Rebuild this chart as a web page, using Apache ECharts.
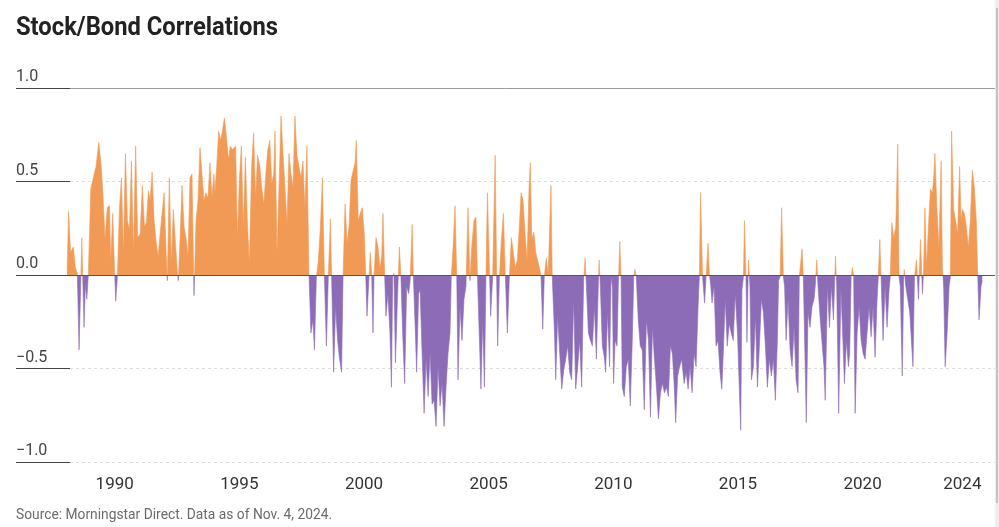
<!DOCTYPE html>
<html><head><meta charset="utf-8">
<script src="https://cdn.jsdelivr.net/npm/echarts@6/dist/echarts.min.js"></script>
<style>html,body{margin:0;padding:0;background:#fff}#c{width:999px;height:527px}</style>
</head><body><div id="c"></div>
<script>
const titleText = 'Stock/Bond Correlations';
const sourceText = 'Source: Morningstar Direct. Data as of Nov. 4, 2024.';
const yearTicks = [1990, 1995, 2000, 2005, 2010, 2015, 2020, 2024];
const yTicks = [-1, -0.5, 0, 0.5, 1];

// decimal year of each observation
const dates = [
1988.09,1988.15,1988.23,1988.34,1988.42,1988.50,1988.57,1988.64,1988.68,1988.72,1988.77,1988.82,1988.88,1988.94,
1989.04,1989.14,1989.25,1989.36,1989.46,1989.54,1989.61,1989.70,1989.79,1989.84,1989.92,1989.99,
1990.04,1990.11,1990.19,1990.27,1990.35,1990.43,1990.51,1990.59,1990.67,1990.75,1990.84,1990.92,
1991.02,1991.11,1991.19,1991.27,1991.35,1991.42,1991.50,1991.58,1991.66,1991.74,1991.82,1991.90,1991.98,
1992.06,1992.11,1992.19,1992.27,1992.35,1992.43,1992.51,1992.55,1992.62,1992.70,1992.78,1992.86,1992.94,
1993.02,1993.10,1993.18,1993.26,1993.34,1993.42,1993.50,1993.58,1993.66,1993.74,1993.82,1993.90,1993.98,
1994.02,1994.09,1994.17,1994.25,1994.33,1994.40,1994.48,1994.56,1994.64,1994.72,1994.80,1994.85,1994.92,
1995.00,1995.08,1995.16,1995.24,1995.32,1995.40,1995.49,1995.57,1995.65,1995.73,1995.82,1995.90,1995.98,
1996.06,1996.14,1996.22,1996.30,1996.38,1996.43,1996.51,1996.59,1996.67,1996.75,1996.83,1996.91,1996.99,
1997.07,1997.15,1997.23,1997.31,1997.39,1997.47,1997.55,1997.63,1997.71,1997.79,1997.87,1997.95,
1998.01,1998.09,1998.17,1998.25,1998.33,1998.41,1998.49,1998.57,1998.65,1998.70,1998.78,1998.86,1998.94,
1999.02,1999.10,1999.16,1999.24,1999.32,1999.40,1999.48,1999.56,1999.64,1999.69,1999.77,1999.85,1999.93,
2000.01,2000.07,2000.12,2000.20,2000.25,2000.31,2000.36,2000.40,2000.48,2000.56,2000.64,2000.71,2000.76,2000.83,2000.88,2000.96,
2001.04,2001.10,2001.15,2001.20,2001.26,2001.34,2001.42,2001.48,2001.55,2001.63,2001.71,2001.79,2001.85,2001.93,2001.98,
2002.06,2002.11,2002.19,2002.25,2002.33,2002.41,2002.49,2002.57,2002.65,2002.73,2002.81,2002.89,2002.97,
2003.05,2003.13,2003.21,2003.29,2003.37,2003.45,2003.50,2003.58,2003.65,2003.72,2003.77,2003.85,2003.93,
2004.01,2004.09,2004.17,2004.25,2004.32,2004.41,2004.49,2004.55,2004.63,2004.69,2004.76,2004.83,2004.89,2004.95,
2005.03,2005.08,2005.16,2005.26,2005.32,2005.36,2005.43,2005.51,2005.59,2005.67,2005.75,2005.83,2005.91,2005.99,
2006.07,2006.15,2006.23,2006.30,2006.38,2006.46,2006.54,2006.62,2006.67,2006.73,2006.81,2006.89,2006.97,
2007.05,2007.10,2007.17,2007.23,2007.31,2007.39,2007.50,2007.55,2007.64,2007.69,2007.77,2007.85,2007.93,
2008.01,2008.09,2008.17,2008.25,2008.33,2008.41,2008.49,2008.57,2008.65,2008.73,2008.81,2008.87,2008.92,
2009.00,2009.08,2009.16,2009.24,2009.32,2009.40,2009.43,2009.48,2009.56,2009.64,2009.69,2009.77,2009.85,2009.91,2009.96,
2010.01,2010.07,2010.15,2010.20,2010.26,2010.31,2010.36,2010.44,2010.52,2010.60,2010.68,2010.76,2010.82,2010.87,2010.92,
2011.00,2011.08,2011.16,2011.24,2011.33,2011.41,2011.49,2011.57,2011.65,2011.73,2011.81,2011.89,2011.97,
2012.05,2012.13,2012.21,2012.29,2012.37,2012.45,2012.50,2012.58,2012.66,2012.74,2012.84,2012.92,
2013.00,2013.08,2013.16,2013.24,2013.32,2013.40,2013.45,2013.50,2013.58,2013.66,2013.72,2013.80,2013.85,2013.91,2013.96,
2014.04,2014.12,2014.20,2014.28,2014.35,2014.41,2014.49,2014.57,2014.65,2014.73,2014.81,2014.89,2014.98,
2015.06,2015.11,2015.16,2015.22,2015.26,2015.32,2015.36,2015.42,2015.48,2015.54,2015.62,2015.70,2015.78,2015.86,2015.94,
2016.02,2016.10,2016.18,2016.26,2016.34,2016.42,2016.50,2016.58,2016.63,2016.69,2016.75,2016.82,2016.87,2016.93,
2017.01,2017.09,2017.17,2017.25,2017.33,2017.41,2017.46,2017.57,2017.62,2017.68,2017.74,2017.81,2017.89,2017.97,
2018.05,2018.10,2018.16,2018.21,2018.29,2018.37,2018.45,2018.50,2018.59,2018.67,2018.75,2018.83,2018.91,2018.96,
2019.04,2019.13,2019.21,2019.27,2019.35,2019.43,2019.48,2019.54,2019.59,2019.64,2019.70,2019.78,2019.86,2019.94,
2020.02,2020.10,2020.18,2020.26,2020.34,2020.42,2020.50,2020.58,2020.63,2020.69,2020.74,2020.82,2020.90,2020.98,
2021.06,2021.11,2021.17,2021.25,2021.33,2021.41,2021.46,2021.51,2021.59,2021.65,2021.67,2021.73,2021.81,2021.89,2021.97,
2022.02,2022.08,2022.16,2022.24,2022.32,2022.40,2022.45,2022.50,2022.56,2022.64,2022.72,2022.80,2022.85,2022.90,2022.98,
2023.06,2023.15,2023.20,2023.25,2023.31,2023.39,2023.47,2023.52,2023.57,2023.65,2023.73,2023.81,2023.89,2023.95,
2024.00,2024.08,2024.16,2024.24,2024.32,2024.40,2024.48,2024.56,2024.62,2024.67,2024.75,2024.80
];

// rolling stock/bond correlation at each date
const correlations = [
0.02,0.34,0.12,0.15,0.04,0.01,-0.40,-0.02,0.20,-0.02,-0.28,-0.05,-0.13,0.00,
0.46,0.52,0.58,0.71,0.58,0.40,0.19,0.36,0.37,0.08,0.33,0.04,
-0.14,0.00,0.36,0.52,0.12,0.65,0.29,0.24,0.61,0.12,0.69,0.20,
0.22,0.48,0.26,0.28,0.45,0.40,0.55,0.29,0.18,0.10,0.22,0.33,0.44,
0.13,-0.03,0.52,0.06,0.35,0.36,0.02,-0.03,0.19,0.48,0.26,0.20,0.10,
0.52,0.54,-0.11,0.29,0.40,0.68,0.67,0.40,0.44,0.41,0.60,0.42,0.54,
0.44,0.58,0.77,0.72,0.78,0.84,0.74,0.62,0.69,0.67,0.68,0.69,0.20,
0.51,0.69,0.26,0.63,0.29,0.06,0.58,0.76,0.42,0.64,0.58,0.46,0.38,
0.54,0.67,0.72,0.49,0.54,0.77,0.12,0.47,0.85,0.65,0.66,0.28,0.65,
0.54,0.47,0.85,0.64,0.58,0.52,0.61,0.36,0.69,0.01,-0.31,-0.24,
-0.40,-0.01,0.08,0.26,0.52,0.00,-0.38,0.00,0.30,-0.01,-0.52,-0.17,-0.35,
-0.45,-0.52,0.00,0.38,0.17,0.26,0.51,0.51,0.60,0.72,0.29,0.33,0.36,
0.22,-0.01,-0.22,-0.01,0.12,-0.01,-0.31,-0.01,0.20,0.15,0.04,0.10,0.33,-0.01,-0.22,-0.10,
-0.31,-0.60,-0.01,0.01,-0.47,-0.13,0.15,-0.01,-0.31,-0.58,-0.06,-0.10,-0.03,0.27,-0.01,
-0.31,-0.52,-0.10,-0.08,-0.42,-0.74,-0.45,-0.65,-0.42,-0.69,-0.67,-0.81,-0.49,
-0.70,-0.58,-0.81,-0.60,-0.42,-0.31,-0.01,0.17,0.37,-0.01,-0.56,-0.17,-0.35,
-0.13,-0.06,0.36,-0.03,0.15,0.29,0.31,-0.01,-0.35,-0.61,-0.24,-0.60,-0.01,0.44,
0.04,-0.22,-0.01,0.64,-0.01,-0.38,-0.01,0.19,0.33,-0.01,-0.31,-0.01,0.20,0.12,
0.04,0.08,0.26,0.44,0.40,0.22,0.08,0.47,0.60,0.19,0.23,0.12,0.12,
0.03,-0.01,-0.29,-0.01,0.09,0.01,0.48,-0.01,-0.31,-0.56,-0.22,-0.42,-0.61,
-0.51,-0.45,-0.38,-0.52,-0.56,-0.13,-0.61,-0.49,-0.35,-0.60,-0.03,0.09,-0.06,
-0.31,-0.35,-0.38,-0.17,-0.45,-0.04,0.08,-0.06,-0.38,-0.44,-0.52,-0.20,-0.49,-0.01,-0.06,
-0.58,-0.35,-0.38,-0.06,0.18,-0.01,-0.60,-0.65,-0.49,-0.45,-0.70,-0.35,-0.01,0.03,-0.01,
-0.24,-0.38,-0.40,-0.72,-0.24,-0.35,-0.76,-0.28,-0.45,-0.60,-0.77,-0.63,-0.58,
-0.63,-0.60,-0.65,-0.38,-0.42,-0.61,-0.79,-0.54,-0.49,-0.45,-0.58,-0.52,
-0.61,-0.49,-0.63,-0.42,-0.49,-0.17,-0.01,0.44,-0.01,-0.15,-0.01,0.17,0.01,-0.06,-0.15,
-0.06,-0.38,-0.35,-0.52,-0.61,-0.42,-0.13,-0.38,-0.26,-0.31,-0.35,-0.10,-0.31,
-0.63,-0.83,-0.08,-0.01,0.29,-0.01,-0.36,0.08,-0.06,-0.56,-0.49,-0.22,-0.60,-0.38,-0.13,
-0.20,-0.38,-0.60,-0.45,-0.54,-0.45,-0.67,-0.35,-0.03,-0.01,0.36,-0.01,-0.06,-0.35,
-0.13,-0.40,-0.49,-0.28,-0.56,-0.63,-0.01,0.14,-0.01,-0.38,-0.79,-0.20,-0.28,-0.17,
-0.13,-0.06,0.08,-0.06,-0.22,-0.36,-0.49,-0.67,-0.06,-0.28,-0.06,-0.24,0.10,-0.06,
-0.74,-0.08,-0.35,-0.58,-0.35,-0.49,-0.42,-0.01,0.04,-0.01,-0.74,-0.31,-0.17,-0.35,
-0.42,-0.45,-0.31,-0.17,-0.33,-0.17,-0.44,-0.13,-0.01,0.19,-0.01,-0.35,-0.06,-0.28,
-0.08,-0.01,0.28,0.20,0.26,0.70,-0.01,-0.06,-0.54,-0.01,0.03,-0.06,-0.13,-0.20,-0.38,
-0.49,-0.01,0.08,-0.13,0.19,-0.10,0.04,0.36,0.04,0.26,0.46,0.44,0.52,0.65,0.35,
0.15,0.61,0.04,-0.06,-0.49,-0.31,-0.06,-0.01,0.77,0.35,0.29,0.22,0.58,0.29,
0.35,0.33,0.26,0.15,0.29,0.56,0.47,0.29,-0.01,-0.24,-0.06,-0.03
];

const POS = '#F19A55';
const NEG = '#8C6CB6';
const FONT = "Roboto,'Liberation Sans',sans-serif";

const n = Math.min(dates.length, correlations.length);
const seriesData = [];
for (let i = 0; i < n; i++) seriesData.push([dates[i], correlations[i]]);

const yAxisBase = {type: 'value', min: -1, max: 1, interval: 0.5, position: 'left'};

const chart = echarts.init(document.getElementById('c'), null, {renderer: 'canvas'});
chart.setOption({
  animation: false,
  backgroundColor: '#fff',
  graphic: [
    {type: 'text', x: 16, y: 16, scaleX: 0.95, silent: true,
     style: {text: titleText, fill: '#222', fontSize: 25, fontWeight: 'bold', fontFamily: FONT, verticalAlign: 'top', align: 'left'}},
    {type: 'text', x: 16, y: 508, scaleX: 0.92, silent: true,
     style: {text: sourceText, fill: '#6b6b6b', fontSize: 15, fontFamily: FONT, verticalAlign: 'top', align: 'left'}},
    {type: 'rect', right: 0, top: 0, silent: true, shape: {width: 4, height: 527}, style: {fill: '#ececec'}},
    {type: 'rect', right: 1, top: 8, silent: true, shape: {width: 2, height: 495}, style: {fill: '#c4c4c4'}}
  ],
  grid: {left: 16, right: 4, top: 88, bottom: 65, containLabel: false},
  xAxis: {
    type: 'value', min: 1986.04, max: 2025.31,
    axisLine: {show: false}, axisTick: {show: false}, splitLine: {show: false},
    axisLabel: {customValues: yearTicks, formatter: v => String(v), color: '#333', fontSize: 17, fontFamily: FONT, margin: 14}
  },
  yAxis: [
    Object.assign({}, yAxisBase, {
      axisLine: {show: false},
      axisTick: {show: false},
      splitLine: {show: true, lineStyle: {color: '#dcdcdc', type: [3, 3], width: 1}},
      axisLabel: {
        inside: true, margin: 0, verticalAlign: 'bottom', padding: [0, 0, 3, 0],
        color: '#444', fontSize: 16, fontFamily: FONT,
        formatter: v => (v < 0 ? '\u2212' : '') + Math.abs(v).toFixed(1)
      }
    }),
    Object.assign({}, yAxisBase, {
      z: 6,
      axisLine: {show: false},
      axisTick: {show: true, inside: true, length: 54, lineStyle: {color: '#444', width: 1}},
      splitLine: {show: false},
      axisLabel: {show: false}
    })
  ],
  visualMap: {
    show: false, type: 'piecewise', dimension: 1, seriesIndex: 0,
    pieces: [{gte: -2, lte: 0, color: NEG}, {gt: 0, lte: 2, color: POS}],
    outOfRange: {color: NEG}
  },
  series: [{
    type: 'line',
    yAxisIndex: 0,
    data: seriesData,
    symbol: 'none', showSymbol: false,
    lineStyle: {width: 0.6},
    areaStyle: {opacity: 1, origin: 0},
    markLine: {
      silent: true, symbol: ['none', 'none'], label: {show: false},
      data: [
        {yAxis: 1, lineStyle: {color: '#9a9a9a', type: 'solid', width: 1}},
        {yAxis: 0, lineStyle: {color: '#555', type: 'solid', width: 1}}
      ]
    }
  }]
});
</script></body></html>
